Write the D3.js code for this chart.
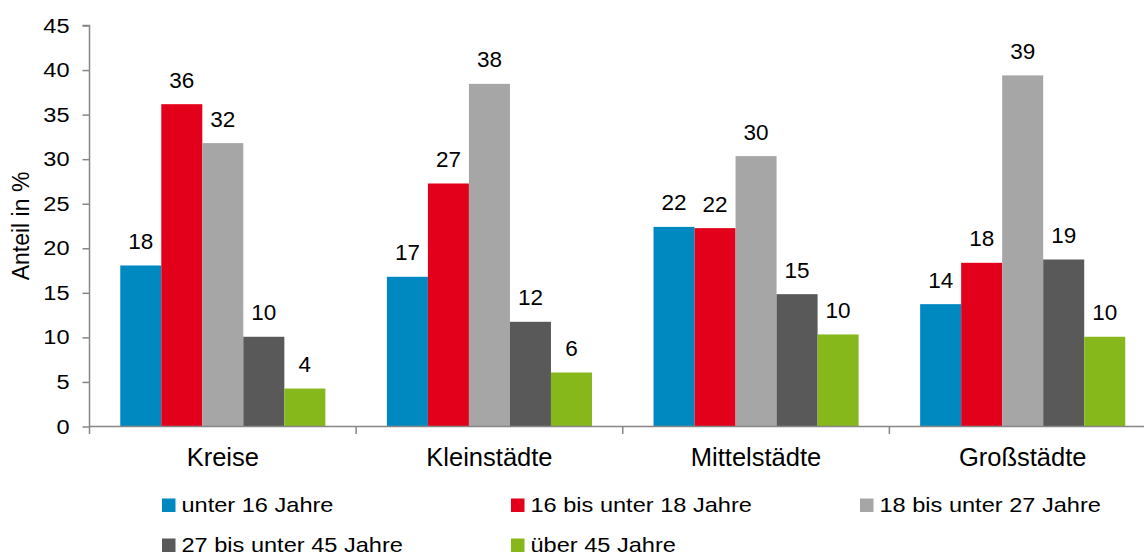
<!DOCTYPE html>
<html>
<head>
<meta charset="utf-8">
<script src="https://cdn.jsdelivr.net/npm/d3@7"></script>
<style>
body{margin:0;background:#fff;}
text{font-family:"Liberation Sans",Arial,sans-serif;fill:#000;}
</style>
</head>
<body>
<div class="chart-container"></div>
<script>
//////////////////////data//////////////////////
var kategorien=["Kreise","Kleinstädte","Mittelstädte","Großstädte"];
var serien=["unter 16 Jahre","16 bis unter 18 Jahre","18 bis unter 27 Jahre","27 bis unter 45 Jahre","über 45 Jahre"];
var unter16=[18.07,16.8,22.4,13.73];
var von16bis18=[36.17,27.27,22.26,18.37];
var von18bis27=[31.8,38.45,30.34,39.4];
var von27bis45=[10.07,11.75,14.85,18.74];
var ueber45=[4.26,6.06,10.33,10.07];
var yTicks=[0,5,10,15,20,25,30,35,40,45];
var farben=["#0089c1","#e2001a","#a6a6a6","#595959","#86b81b"];

var werte=[unter16,von16bis18,von18bis27,von27bis45,ueber45];

//////////////////////plot//////////////////////
function data_plot(){
    var width=1144;
    var height=557;
    var svg=d3.select(".chart-container").append("svg").attr("width",width).attr("height",height);

    //scales
    var x0=d3.scaleBand().domain(kategorien).range([89.5,1156]).padding(0);
    var x1=d3.scaleBand().domain(serien).range([0,x0.bandwidth()]).paddingInner(0).paddingOuter(0.75);
    var yScale=d3.scaleLinear().domain([0,45]).range([426.5,25.5]);

    //y axis (Beschriftung etwas breit wie im Original)
    var sx=1.15;
    var yAxis=d3.axisLeft(yScale).tickValues(yTicks).tickSize(7).tickPadding(13);
    var gy=svg.append("g").attr("transform","translate(89.5,0)").call(yAxis);
    gy.select(".domain").attr("stroke","#868686").attr("stroke-width",1.5).attr("d","M-7,25.5H0V434");
    gy.selectAll(".tick line").attr("stroke","#868686").attr("stroke-width",1.5);
    gy.selectAll(".tick text")
    .attr("font-size","20.5px")
    .attr("font-family","Liberation Sans, Arial, sans-serif")
    .attr("fill","#000")
    .attr("x",-20/sx)
    .attr("transform","scale("+sx+",1)");

    svg.append("text")
    .attr("transform","translate(29,226) rotate(-90)")
    .attr("text-anchor","middle")
    .attr("font-size","23px")
    .text("Anteil in %");

    //bars
    var g=svg.append("g");
    kategorien.forEach(function(kat,k){
        serien.forEach(function(s,i){
            var v=werte[i][k];
            var bx=x0(kat)+x1(s);
            g.append("rect")
            .attr("x",bx)
            .attr("y",yScale(v))
            .attr("width",x1.bandwidth())
            .attr("height",yScale(0)-yScale(v))
            .attr("fill",farben[i]);
            g.append("text")
            .attr("x",bx+x1.bandwidth()/2)
            .attr("y",yScale(v)-16.5)
            .attr("text-anchor","middle")
            .attr("font-size","22.5px")
            .text(Math.round(v));
        });
    });

    //x axis
    svg.append("line")
    .attr("x1",89.5).attr("x2",1156)
    .attr("y1",426.5).attr("y2",426.5)
    .attr("stroke","#868686").attr("stroke-width",1.5);
    kategorien.forEach(function(kat){
        var tx=x0(kat)+x0.bandwidth();
        svg.append("line")
        .attr("x1",tx).attr("x2",tx)
        .attr("y1",426.5).attr("y2",434)
        .attr("stroke","#868686").attr("stroke-width",1.5);
        svg.append("text")
        .attr("x",x0(kat)+x0.bandwidth()/2)
        .attr("y",466)
        .attr("text-anchor","middle")
        .attr("font-size","25.5px")
        .text(kat);
    });

    //legend
    var legPos=[[162,512],[511,512],[860,512],[162,552],[511,552]];
    serien.forEach(function(s,i){
        var lg=svg.append("g").attr("transform","translate("+legPos[i][0]+","+legPos[i][1]+")");
        lg.append("rect").attr("x",0).attr("y",-13.5).attr("width",13.5).attr("height",13.5).attr("fill",farben[i]);
        lg.append("text")
        .attr("x",19.5/sx).attr("y",0)
        .attr("transform","scale("+sx+",1)")
        .attr("font-size","20.5px")
        .text(s);
    });
}

data_plot();
</script>
</body>
</html>
